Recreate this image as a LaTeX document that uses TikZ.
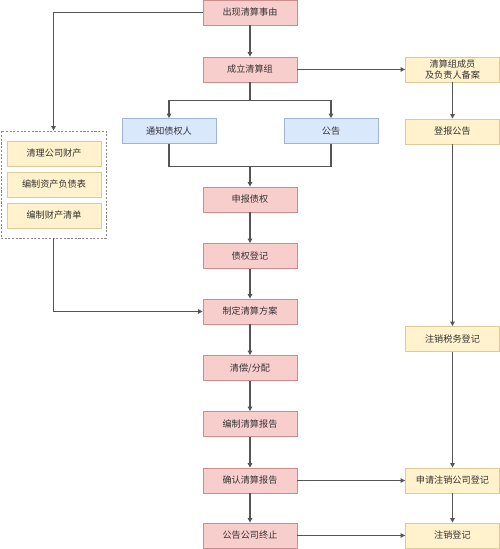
\documentclass[tikz,border=0pt]{standalone}
\usepackage{fontspec}
\setmainfont{Noto Sans CJK SC}
\usetikzlibrary{arrows.meta}

\definecolor{rotfill}{HTML}{F8CECC}
\definecolor{rotrand}{HTML}{C98E8B}
\definecolor{blaufill}{HTML}{DAE8FC}
\definecolor{blaurand}{HTML}{9FB5D6}
\definecolor{gelbfill}{HTML}{FFF2CC}
\definecolor{gelbrand}{HTML}{DDCB95}
\definecolor{linienfarbe}{HTML}{555555}
\definecolor{schrift}{HTML}{333333}

\tikzset{
	box/.style={minimum width=1.88cm, minimum height=0.5cm, inner sep=0pt, align=center, line width=0.5pt, text=schrift},
	rot/.style={box, draw=rotrand, fill=rotfill},
	blau/.style={box, draw=blaurand, fill=blaufill},
	gelb/.style={box, draw=gelbrand, fill=gelbfill},
	pfeil/.style={-{Triangle[length=2.6pt, width=2.6pt]}, draw=linienfarbe, line width=0.65pt},
	strich/.style={draw=linienfarbe, line width=0.65pt}
}

\begin{document}
\begin{tikzpicture}[x=0.02cm, y=-0.02cm, font=\fontsize{5.2}{6.4}\selectfont]
	\useasboundingbox (0, 0) rectangle (500, 549);
	
	% Mitte
	\node [rot] (ereignis) at (250, 12.5) {出现清算事由};
	\node [rot] (gruppe) at (250, 69.5) {成立清算组};
	\node [blau] (notify) at (169, 131) {通知债权人};
	\node [blau] (gonggao) at (331, 131) {公告};
	\node [rot] (shenbao) at (250, 199.5) {申报债权};
	\node [rot] (dengji) at (250, 256) {债权登记};
	\node [rot] (fangan) at (250, 311.5) {制定清算方案};
	\node [rot] (fenpei) at (250, 368) {清偿/分配};
	\node [rot] (baogao) at (250, 424) {编制清算报告};
	\node [rot] (queren) at (250, 480.5) {确认清算报告};
	\node [rot] (zhongzhi) at (250, 535.5) {公告公司终止};
	
	% rechts
	\node [gelb] (beian) at (452.5, 69.5) {清算组成员\\及负责人备案};
	\node [gelb] (dengbao) at (452.5, 131.5) {登报公告};
	\node [gelb] (shuiwu) at (452.5, 339) {注销税务登记};
	\node [gelb] (shenqing) at (452.5, 480.5) {申请注销公司登记};
	\node [gelb] (zhuxiao) at (452.5, 535.5) {注销登记};
	
	% links (gestrichelte Gruppe)
	\node [draw=linienfarbe!70, dash pattern=on 1.2pt off 0.9pt, line width=0.5pt, minimum width=2.1cm, minimum height=2.14cm] (links) at (53.5, 184.5) {};
	\node [gelb] (caichan) at (54, 153.5) {清理公司财产};
	\node [gelb] (fuzhai) at (54, 184.5) {编制资产负债表};
	\node [gelb] (qingdan) at (54, 215.5) {编制财产清单};
	
	\coordinate (split) at (250, 100.5);		% Verzweigung
	\coordinate (join) at (250, 166.5);		% Zusammenfuehrung
	
	\draw [pfeil] (ereignis.west) -| (links.north);
	\draw [pfeil] (links.south) |- (fangan.west);
	\draw [pfeil] (ereignis) -- (gruppe);
	\draw [strich] (gruppe) -- (split);
	\draw [pfeil] (split) -| (notify.north);
	\draw [pfeil] (split) -| (gonggao.north);
	\draw [strich] (notify.south) |- (join) -| (gonggao.south);
	\draw [pfeil] (join) -- (shenbao);
	\draw [pfeil] (shenbao) -- (dengji);
	\draw [pfeil] (dengji) -- (fangan);
	\draw [pfeil] (fangan) -- (fenpei);
	\draw [pfeil] (fenpei) -- (baogao);
	\draw [pfeil] (baogao) -- (queren);
	\draw [pfeil] (queren) -- (zhongzhi);
	
	\draw [pfeil] (gruppe) -- (beian);
	\draw [pfeil] (beian) -- (dengbao);
	\draw [pfeil] (dengbao) -- (shuiwu);
	\draw [pfeil] (shuiwu) -- (shenqing);
	\draw [pfeil] (queren) -- (shenqing);
	\draw [pfeil] (shenqing) -- (zhuxiao);
	\draw [pfeil] (zhongzhi) -- (zhuxiao);
\end{tikzpicture}
\end{document}
